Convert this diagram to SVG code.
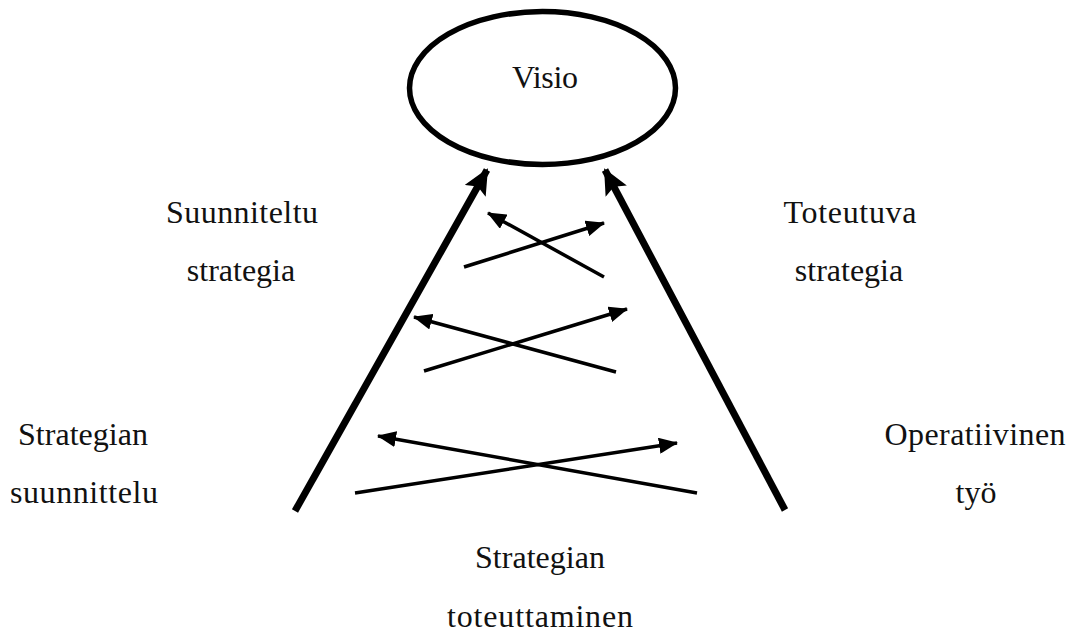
<svg xmlns="http://www.w3.org/2000/svg" width="1078" height="637" viewBox="0 0 1078 637">
  <style>
    .lbl { font-family: "Liberation Serif", "DejaVu Serif", serif; font-size: 32px; fill: #111; text-anchor: middle; }
    .thick { stroke: #000; stroke-width: 7; fill: none; }
    .thin { stroke: #000; stroke-width: 3.5; fill: none; }
  </style>
  <defs>
    <marker id="headBig" markerUnits="userSpaceOnUse" markerWidth="28" markerHeight="24" refX="24" refY="12" orient="auto">
      <path d="M0,0 L26,12 L0,24 L5,12 Z" fill="#000"/>
    </marker>
    <marker id="headSmall" markerUnits="userSpaceOnUse" markerWidth="20" markerHeight="16" refX="18" refY="8" orient="auto">
      <path d="M0,0 L19,8 L0,16 Z" fill="#000"/>
    </marker>
  </defs>

  <g id="visio">
    <ellipse cx="542.5" cy="88" rx="133" ry="76.5" fill="#fff" stroke="#000" stroke-width="5.5"/>
    <text class="lbl" x="545" y="88" textLength="66">Visio</text>
  </g>

  <g id="connectors">
    <line class="thick" x1="295" y1="511" x2="487" y2="170" marker-end="url(#headBig)"/>
    <line class="thick" x1="785" y1="510" x2="605" y2="170" marker-end="url(#headBig)"/>

    <line class="thin" x1="464" y1="267" x2="604" y2="223" marker-end="url(#headSmall)"/>
    <line class="thin" x1="604" y1="277" x2="488" y2="213" marker-end="url(#headSmall)"/>

    <line class="thin" x1="424" y1="371" x2="627" y2="309" marker-end="url(#headSmall)"/>
    <line class="thin" x1="616" y1="372" x2="414" y2="317" marker-end="url(#headSmall)"/>

    <line class="thin" x1="355" y1="493" x2="677" y2="443" marker-end="url(#headSmall)"/>
    <line class="thin" x1="697" y1="493" x2="378" y2="436" marker-end="url(#headSmall)"/>
  </g>

  <g id="suunniteltu-strategia">
    <text class="lbl" x="242" y="223" textLength="152">Suunniteltu</text>
    <text class="lbl" x="241" y="281">strategia</text>
  </g>
  <g id="toteutuva-strategia">
    <text class="lbl" x="850" y="223" textLength="133">Toteutuva</text>
    <text class="lbl" x="849" y="281">strategia</text>
  </g>
  <g id="strategian-suunnittelu">
    <text class="lbl" x="83" y="445" textLength="130">Strategian</text>
    <text class="lbl" x="84" y="503" textLength="148">suunnittelu</text>
  </g>
  <g id="operatiivinen-tyo">
    <text class="lbl" x="975" y="445" textLength="181">Operatiivinen</text>
    <text class="lbl" x="976" y="503">työ</text>
  </g>
  <g id="strategian-toteuttaminen">
    <text class="lbl" x="540" y="568" textLength="130">Strategian</text>
    <text class="lbl" x="540" y="627" textLength="186">toteuttaminen</text>
  </g>
</svg>
